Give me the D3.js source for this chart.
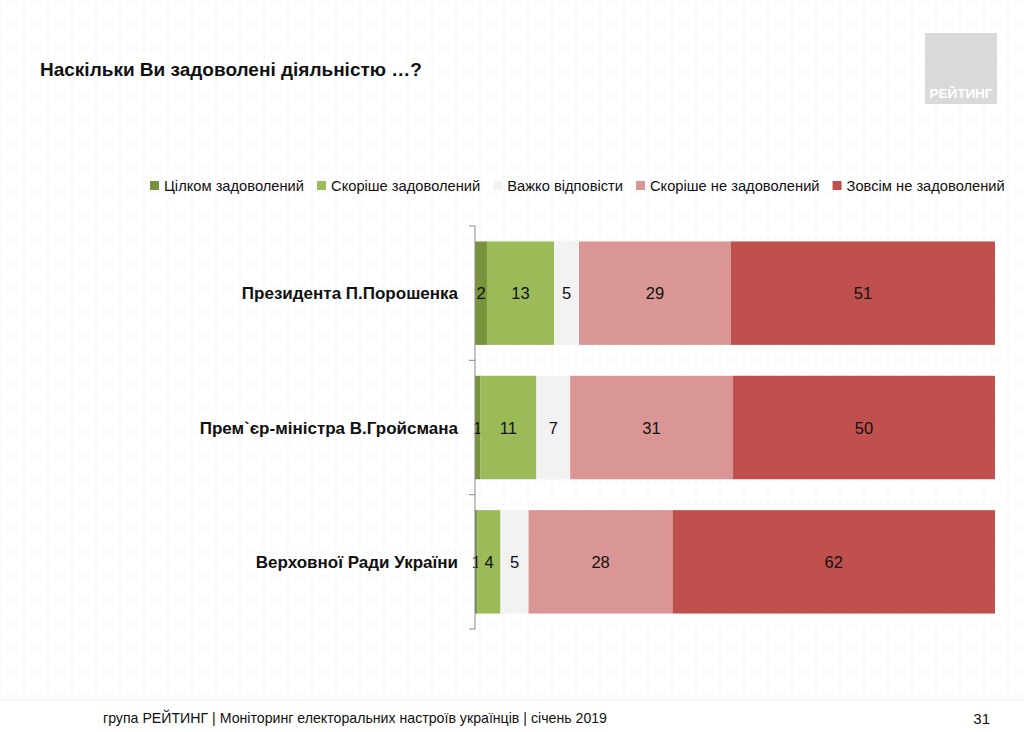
<html>
<head>
<meta charset="utf-8">
<style>
  body { margin: 0; background: #fff; }
  text { font-family: "Liberation Sans", Arial, sans-serif; }
</style>
<script src="https://cdn.jsdelivr.net/npm/d3@7"></script>
</head>
<body>
<svg id="chart" width="1024" height="732"></svg>
<script>
// категорії та серії
const categories = ["Президента П.Порошенка", "Прем`єр-міністра В.Гройсмана", "Верховної Ради України"]
const seriesNames = ["Цілком задоволений", "Скоріше задоволений", "Важко відповісти", "Скоріше не задоволений", "Зовсім не задоволений"]
const fullySatisfied = [2.3, 1.0, 0.5]
const ratherSatisfied = [12.9, 10.8, 4.4]
const hardToSay = [4.8, 6.5, 5.4]
const ratherNot = [29.2, 31.3, 27.7]
const notAtAll = [50.8, 50.4, 62.0]
const colors = ["#77933c", "#9bbb59", "#f2f2f2", "#d99694", "#c0504d"]

let svg = d3.select("#chart")

// фон у клітинку
let grid = svg.append("g")
grid.selectAll("line.v").data(d3.range(0, 1024, 24)).enter().append("line")
    .attr("x1", d => d).attr("x2", d => d).attr("y1", 0).attr("y2", 700)
    .attr("stroke", "#f5f5f5").attr("stroke-width", 1)
grid.selectAll("line.h").data(d3.range(0, 700, 24)).enter().append("line")
    .attr("y1", d => d).attr("y2", d => d).attr("x1", 0).attr("x2", 1024)
    .attr("stroke", "#f5f5f5").attr("stroke-width", 1)

// заголовок
svg.append("text").attr("x", 40).attr("y", 76)
    .attr("font-size", 19).attr("font-weight", "bold").attr("fill", "#111")
    .text("Наскільки Ви задоволені діяльністю …?")

// логотип
svg.append("rect").attr("x", 925).attr("y", 33).attr("width", 72).attr("height", 71).attr("fill", "#d9d9d9")
svg.append("text").attr("x", 961).attr("y", 98).attr("text-anchor", "middle")
    .attr("font-size", 13.5).attr("font-weight", "bold").attr("fill", "#fff")
    .text("РЕЙТИНГ")

// легенда
let legend = svg.append("g")
let lx = 150
seriesNames.forEach((name, i) => {
    let g = legend.append("g").attr("transform", "translate(" + lx + ",0)")
    g.append("rect").attr("x", 0).attr("y", 181).attr("width", 9).attr("height", 9)
        .attr("fill", colors[i])
    let t = g.append("text").attr("x", 14).attr("y", 191).attr("font-size", 14.7).attr("fill", "#111").text(name)
    lx += 14 + t.node().getComputedTextLength() + 13
})

// дані для стека
let data = categories.map((c, i) => ({
    cat: c,
    s0: fullySatisfied[i], s1: ratherSatisfied[i], s2: hardToSay[i], s3: ratherNot[i], s4: notAtAll[i]
}))
let keys = ["s0", "s1", "s2", "s3", "s4"]
let stacked = d3.stack().keys(keys)(data)

let xScale = d3.scaleLinear().domain([0, 100]).range([475, 995])
let yScale = d3.scaleBand().domain(categories).range([226, 629]).paddingInner(0.23).paddingOuter(0.115)

let layers = svg.append("g").selectAll("g").data(stacked).enter().append("g")
    .attr("fill", (d, i) => colors[i])

layers.selectAll("rect").data(d => d).enter().append("rect")
    .attr("x", d => xScale(d[0]))
    .attr("y", d => yScale(d.data.cat))
    .attr("width", d => xScale(d[1]) - xScale(d[0]))
    .attr("height", yScale.bandwidth())

layers.selectAll("text").data(d => d).enter().append("text")
    .attr("x", d => (xScale(d[0]) + xScale(d[1])) / 2)
    .attr("y", d => yScale(d.data.cat) + yScale.bandwidth() / 2 + 6)
    .attr("text-anchor", "middle").attr("font-size", 16.5).attr("fill", "#111")
    .text(d => Math.round(d[1] - d[0]))

// вісь категорій
let axisG = svg.append("g").attr("transform", "translate(475,0)")
axisG.append("line").attr("x1", 0).attr("x2", 0).attr("y1", 226).attr("y2", 629)
    .attr("stroke", "#888")
let tickYs = [226, 629].concat(categories.slice(1).map(c => yScale(c) - yScale.step() * yScale.paddingInner() / 2))
axisG.selectAll("line.tick").data(tickYs).enter().append("line")
    .attr("x1", -6).attr("x2", 0).attr("y1", d => d).attr("y2", d => d).attr("stroke", "#888")
axisG.selectAll("text").data(categories).enter().append("text")
    .attr("x", -17).attr("y", d => yScale(d) + yScale.bandwidth() / 2 + 6)
    .attr("text-anchor", "end").attr("font-size", 17).attr("font-weight", "bold").attr("fill", "#111")
    .text(d => d)

// нижній колонтитул
svg.append("line").attr("x1", 0).attr("x2", 1024).attr("y1", 700).attr("y2", 700).attr("stroke", "#eee")
svg.append("text").attr("x", 103).attr("y", 723).attr("font-size", 14.5)
    .attr("textLength", 504).attr("lengthAdjust", "spacingAndGlyphs").attr("fill", "#111")
    .text("група РЕЙТИНГ |  Моніторинг електоральних настроїв українців  |  січень  2019")
svg.append("text").attr("x", 990).attr("y", 724).attr("font-size", 15).attr("text-anchor", "end")
    .attr("fill", "#111")
    .text("31")
</script>
</body>
</html>
